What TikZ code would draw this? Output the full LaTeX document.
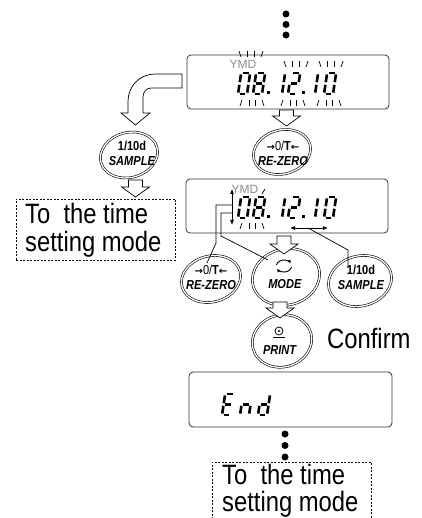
\documentclass[tikz,border=0pt]{standalone}
\usepackage{fontspec}
\setmainfont{Liberation Sans}
\newfontfamily\dejavu{DejaVu Sans}
\newfontfamily\narrowfont[FakeStretch=0.85]{Liberation Sans}
\usetikzlibrary{shapes.geometric,arrows.meta}

\tikzset{
  segline/.style={line width=2.6pt},
  flash/.style={line width=0.7pt},
  btn/.style={ellipse, draw, double, double distance=1.3pt, line width=0.6pt, inner sep=0pt, rotate=15},
  btxt/.style={align=center, font=\narrowfont\fontsize{13}{15}\selectfont\bfseries, inner sep=0pt},
  lcd/.style={draw=black!80, line width=0.8pt, rounded corners=4pt, inner sep=0pt},
  dashbox/.style={draw, dash pattern=on 2pt off 1.5pt, line width=0.6pt, minimum width=159pt, minimum height=61pt, inner sep=0pt},
  harrow/.style={draw, fill=white, line width=0.7pt, line join=miter},
  conn/.style={line width=0.7pt},
  dotn/.style={circle, fill, inner sep=0pt, minimum size=7pt},
  bigtxt/.style={font=\narrowfont\fontsize{28}{29}\selectfont, inner sep=0pt, anchor=base west},
  ymd/.style={font=\fontsize{12}{12}\selectfont, text=black!45, inner sep=0pt},
  arr/.style={line width=0.7pt, {Latex[length=5pt,width=4pt]}-{Latex[length=5pt,width=4pt]}},
}

% seven-segment pieces (local coords: baseline at 0, up is negative)
\def\SegA{\draw[segline] (1.6,-21) -- (7.4,-21);}
\def\SegB{\draw[segline] (9,-19.6) -- (9,-11.8);}
\def\SegC{\draw[segline] (9,-9.2) -- (9,-1.4);}
\def\SegD{\draw[segline] (1.6,0) -- (7.4,0);}
\def\SegE{\draw[segline] (0,-9.2) -- (0,-1.4);}
\def\SegF{\draw[segline] (0,-19.6) -- (0,-11.8);}
\def\SegG{\draw[segline] (1.6,-10.5) -- (7.4,-10.5);}
\newcommand\segdigit[3]{\begin{scope}[shift={(#1,#2)},xslant=0.15]
  \foreach \sg in {#3}{\csname Seg\sg\endcsname}\end{scope}}
\newcommand\segdot[2]{\fill (#1,{#2-2.8}) rectangle ({#1+2.8},{#2+0.2});}
\newcommand\flashup[2]{%
  \draw[flash] ({#1-12},{#2-6}) -- ({#1-10},#2);
  \draw[flash] ({#1-3.5},{#2-6}) -- ({#1-3.5},#2);
  \draw[flash] ({#1+3.5},{#2-6}) -- ({#1+3.5},#2);
  \draw[flash] ({#1+12},{#2-6}) -- ({#1+10},#2);}
\newcommand\flashdown[2]{%
  \draw[flash] ({#1-10},#2) -- ({#1-12},{#2+6});
  \draw[flash] ({#1-3},#2) -- ({#1-3},{#2+6});
  \draw[flash] ({#1+3},#2) -- ({#1+3},{#2+6});
  \draw[flash] ({#1+10},#2) -- ({#1+12},{#2+6});}
\newcommand\blockarr[4]{% x, ytop, yhead, ytip
  \draw[harrow] ({#1-7},#2) -- ({#1+7},#2) -- ({#1+7},#3) -- ({#1+14},#3) -- (#1,#4)
     -- ({#1-14},#3) -- ({#1-7},#3) -- cycle;}
\newcommand\datedigits[1]{%
  \segdigit{238}{#1}{A,B,C,D,E,F}
  \segdigit{253}{#1}{A,B,C,D,E,F,G}
  \segdot{267}{#1}
  \segdigit{273}{#1}{B,C}
  \segdigit{288}{#1}{A,B,G,E,D}
  \segdot{302}{#1}
  \segdigit{306}{#1}{B,C}
  \segdigit{324}{#1}{A,B,C,D,E,F}}
\newcommand\rezerotext{{\dejavu\bfseries\fontsize{10}{10}\selectfont →}{\mdseries 0/}T{\dejavu\bfseries\fontsize{10}{10}\selectfont ←}\\\textit{RE-ZERO}}

\begin{document}
\begin{tikzpicture}[x=1pt,y=-1pt]
\useasboundingbox (0,0) rectangle (421,518);
\clip (0,0) rectangle (421,518);

% top dots
\node[dotn] (t1) at (286,14) {};
\node[dotn] (t2) at (286,24.5) {};
\node[dotn] (t3) at (286,35) {};

% ---- display 1
\node[lcd, minimum width=202pt, minimum height=54pt] (d1) at (288,82) {};
\node[ymd] (ymd1) at (243,64) {YMD};
\flashup{251}{57}
\datedigits{94}
\flashup{296}{67}
\flashup{331}{67}
\flashdown{252}{100}
\flashdown{293}{100}
\flashdown{329}{100}

% curved block arrow to SAMPLE
\draw[harrow] (182,74) -- (155,74) to[out=180,in=90] (128,101) -- (128,113) -- (121,113)
  -- (135.5,125) -- (150,113) -- (143,113) -- (143,97) to[out=90,in=180] (151,88) -- (182,88) -- cycle;

% buttons row 1
\node[btn, minimum width=58pt, minimum height=45pt] (s1) at (129,155) {};
\node[btxt] (s1t) at (132,153) {1/10d\\\textit{SAMPLE}};
\node[btn, minimum width=58pt, minimum height=44pt] (r1) at (282,152) {};
\node[btxt] (r1t) at (283,153) {\rezerotext};
\blockarr{286.5}{110}{116}{126}
\blockarr{135.5}{180}{187}{197}

% dashed box 1
\node[dashbox] (box1) at (95.5,229.5) {};
\node[bigtxt] (box1a) at (25,223.5) {To\ \ the time};
\node[bigtxt] (box1b) at (25,251.5) {setting mode};

% ---- display 2
\node[lcd, minimum width=202pt, minimum height=54pt] (d2) at (287,206) {};
\node[ymd] (ymd2) at (245,189) {YMD};
\draw[flash] (262,194) -- (265,189);
\datedigits{218}
\flashdown{252}{223}
\coordinate (udT) at (232,189);
\coordinate (udB) at (232,225);
\draw[arr] (udT) -- (udB);
\coordinate (hL) at (290,228);
\coordinate (hR) at (328,228);
\draw[arr] (hL) -- (hR);

% buttons row 2
\node[btn, minimum width=60pt, minimum height=46pt] (r2) at (211,279) {};
\node[btxt] (r2t) at (211,277.5) {\rezerotext};
\node[btn, minimum width=68pt, minimum height=56pt] (m) at (286,277) {};
\node[btxt] (mt) at (285,284) {\textit{MODE}};
\node[btn, minimum width=64pt, minimum height=50pt] (s2) at (360,281) {};
\node[btxt] (s2t) at (361,277.5) {1/10d\\\textit{SAMPLE}};

% mode icon
\coordinate (mi) at (284,266);
\draw[line width=0.9pt, -{Latex[length=3.5pt,width=3.5pt]}] (mi) ++({7.5*cos(-170)},{6*sin(-170)}) arc[start angle=-170, end angle=-25, x radius=7.5, y radius=6];
\draw[line width=0.9pt, -{Latex[length=3.5pt,width=3.5pt]}] (mi) ++({7.5*cos(10)},{6*sin(10)}) arc[start angle=10, end angle=155, x radius=7.5, y radius=6];

% connectors
\coordinate (lA) at (232,205);
\coordinate (lB) at (232,213);
\coordinate (r2in) at (207,263);
\coordinate (min) at (268,260);
\coordinate (hM) at (308,228);
\coordinate (s2in) at (348,268);
\draw[conn] (lA) -- (216,205) -- (216,243) -- (r2in);
\draw[conn] (lB) -- (221,213) -- (221,236) -- (min);
\draw[conn] (hM) -- (348,250) -- (s2in);

\blockarr{284}{236}{244}{254}

% print
\node[btn, minimum width=60pt, minimum height=52pt] (p) at (282,341) {};
\node[btxt] (pt) at (280,350) {\textit{PRINT}};
\draw[line width=0.8pt] (279,331) circle[radius=4];
\fill (279,331) circle[radius=1.2];
\draw[line width=1pt] (273,337.5) -- (285,337.5);
\blockarr{280}{302}{308}{318}
\node[bigtxt] (conf) at (327,348) {Confirm};

% ---- display 3
\node[lcd, minimum width=203pt, minimum height=55pt] (d3) at (290.5,399.5) {};
\segdigit{222}{415}{A,F,G,E,D}
\segdigit{240}{415}{C,E,G}
\segdigit{258}{415}{B,C,D,E,G}

\node[dotn] (b1) at (285,434) {};
\node[dotn] (b2) at (285,445.5) {};
\node[dotn] (b3) at (285,457) {};

\node[dashbox] (box2) at (291.5,492.5) {};
\node[bigtxt] (box2a) at (222,484.5) {To\ \ the time};
\node[bigtxt] (box2b) at (222,511.5) {setting mode};
\end{tikzpicture}
\end{document}
